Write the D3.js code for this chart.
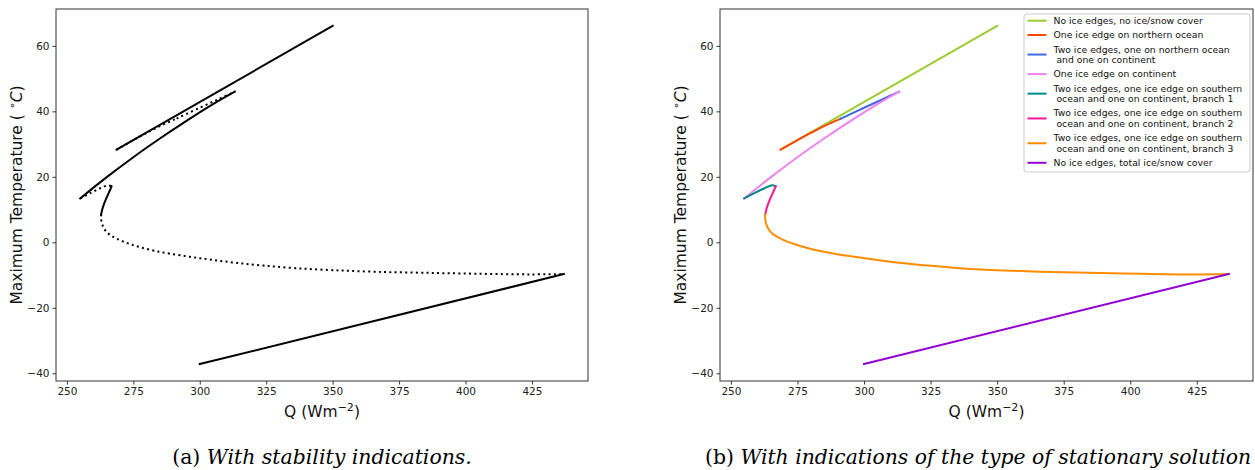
<!DOCTYPE html>
<html>
<head>
<meta charset="utf-8">
<script src="https://cdn.jsdelivr.net/npm/d3@7"></script>
<style>
  body { margin: 0; background: #fff; }
  svg { display: block; }
</style>
</head>
<body>
<svg id="fig" width="1255" height="470"></svg>
<script>
// Stationary-solution branches: solar forcing Q (W m^-2) vs maximum temperature (°C)
const qNoIce = [268.7, 350.0];
const tNoIce = [28.3, 66.1];

const qNorthOcean = [268.7, 275.0, 280.0, 285.0, 291.3];
const tNorthOcean = [28.3, 31.2, 33.4, 35.5, 37.8];

const qNorthOceanContinent = [291.3, 300.0, 307.0, 313.2];
const tNorthOceanContinent = [37.8, 41.1, 43.7, 46.0];

const qContinent = [255.0, 265.0, 275.0, 285.0, 295.0, 305.0, 313.2];
const tContinent = [13.4, 19.9, 26.0, 31.7, 37.1, 42.2, 46.0];

const qSouthBranch1 = [255.0, 259.0, 262.8, 265.5, 266.8];
const tSouthBranch1 = [13.4, 15.1, 16.6, 17.4, 17.1];

const qSouthBranch2 = [266.8, 266.2, 264.8, 263.5, 262.9];
const tSouthBranch2 = [17.1, 15.9, 13.4, 10.6, 8.6];

const qSouthBranch3 = [262.9, 262.9, 263.3, 264.0, 265.0, 266.5, 268.5, 271.0, 274.0, 278.0, 283.0, 289.0,
                       297.0, 305.0, 314.0, 324.0, 336.0, 350.0, 366.0, 384.0, 404.0, 424.0, 437.0];
const tSouthBranch3 = [8.6, 7.0, 5.5, 4.2, 3.1, 2.1, 1.2, 0.3, -0.6, -1.6, -2.6, -3.5,
                       -4.5, -5.4, -6.3, -7.1, -7.9, -8.5, -9.0, -9.3, -9.6, -9.8, -9.7];

const qTotalIce = [300.0, 437.0];
const tTotalIce = [-37.2, -9.7];

const branchQ = [qNoIce, qNorthOcean, qNorthOceanContinent, qContinent,
                 qSouthBranch1, qSouthBranch2, qSouthBranch3, qTotalIce];
const branchT = [tNoIce, tNorthOcean, tNorthOceanContinent, tContinent,
                 tSouthBranch1, tSouthBranch2, tSouthBranch3, tTotalIce];
const branchStable = [true, false, false, true, false, true, false, true];
const branchColors = ["#9acd32", "#ff4500", "#4169e1", "#ee82ee",
                      "#008b8b", "#ff1493", "#ff8c00", "#9400d3"];
const branchLabels = [
  "No ice edges, no ice/snow cover",
  "One ice edge on northern ocean",
  "Two ice edges, one on northern ocean\n and one on continent",
  "One ice edge on continent",
  "Two ice edges, one ice edge on southern\n ocean and one on continent, branch 1",
  "Two ice edges, one ice edge on southern\n ocean and one on continent, branch 2",
  "Two ice edges, one ice edge on southern\n ocean and one on continent, branch 3",
  "No ice edges, total ice/snow cover"
];

const xTicks = [250, 275, 300, 325, 350, 375, 400, 425];
const yTicks = [-40, -20, 0, 20, 40, 60];
const captionTags = ["(a) ", "(b) "];
const captions = ["With stability indications.", "With indications of the type of stationary solution"];

const svg = d3.select("#fig");
const sans = "'DejaVu Sans', sans-serif";
const serif = "'DejaVu Serif', serif";

// axis limits with 5% padding around the data
const allQ = branchQ.flat(), allT = branchT.flat();
function padded(vals) {
  const [lo, hi] = d3.extent(vals);
  const m = 0.05 * (hi - lo);
  return [lo - m, hi + m];
}
const qDomain = padded(allQ), tDomain = padded(allT);

function drawPanel(left, right, top, bottom, colored) {
  const x = d3.scaleLinear().domain(qDomain).range([left, right]);
  const y = d3.scaleLinear().domain(tDomain).range([bottom, top]);
  const g = svg.append("g");

  const line = d3.line()
    .x(d => x(d[0])).y(d => y(d[1]))
    .curve(d3.curveCatmullRom.alpha(0.5));

  branchQ.forEach((qs, i) => {
    const pts = qs.map((q, k) => [q, branchT[i][k]]);
    const p = g.append("path")
      .attr("d", line(pts))
      .attr("fill", "none")
      .attr("stroke-width", 2)
      .attr("stroke", colored ? branchColors[i] : "#000");
    if (!colored && !branchStable[i]) {
      p.attr("stroke-dasharray", "2,3.3");
    } else {
      p.attr("stroke-linecap", "square");
    }
  });

  // frame
  g.append("rect")
    .attr("x", left).attr("y", top)
    .attr("width", right - left).attr("height", bottom - top)
    .attr("fill", "none").attr("stroke", "#333").attr("stroke-width", 1);

  const xAxis = g.append("g").attr("transform", `translate(0,${bottom})`)
    .call(d3.axisBottom(x).tickValues(xTicks).tickSize(3.5).tickPadding(3).tickFormat(d3.format("d")));
  const yAxis = g.append("g").attr("transform", `translate(${left},0)`)
    .call(d3.axisLeft(y).tickValues(yTicks).tickSize(3.5).tickPadding(3)
      .tickFormat(d => d < 0 ? "\u2212" + Math.abs(d) : String(d)));
  [xAxis, yAxis].forEach(a => {
    a.select(".domain").remove();
    a.selectAll("line").attr("stroke", "#333");
    a.selectAll("text").attr("font-family", sans).attr("font-size", 10.5).attr("fill", "#222");
  });

  // x label
  const xl = g.append("text")
    .attr("x", (left + right) / 2).attr("y", 417)
    .attr("text-anchor", "middle")
    .attr("font-family", sans).attr("font-size", 15.5).attr("fill", "#111");
  xl.append("tspan").text("Q (Wm");
  xl.append("tspan").attr("font-size", 11).attr("dy", -6).text("\u22122");
  xl.append("tspan").attr("dy", 6).text(")");

  // y label
  const yl = g.append("text")
    .attr("transform", `translate(${left - 34},${(top + bottom) / 2}) rotate(-90)`)
    .attr("text-anchor", "middle")
    .attr("font-family", sans).attr("font-size", 15.5).attr("fill", "#111");
  yl.append("tspan").text("Maximum Temperature ( ");
  yl.append("tspan").attr("font-size", 11).attr("dy", -6).text("\u2218");
  yl.append("tspan").attr("dy", 6).attr("font-style", "italic").text("C");
  yl.append("tspan").text(")");

  return { x, y, g };
}

drawPanel(56, 588, 9, 381, false);
drawPanel(720, 1253, 9, 381, true);

// legend: size the label font so the first entry spans the legend's text column
const legendTextX = 1053.5, legendFirstWidth = 149.5;
const probe = svg.append("text").attr("font-family", sans).attr("font-size", 10).text(branchLabels[0]);
const legendFont = 10 * legendFirstWidth / probe.node().getComputedTextLength();
probe.remove();

const lg = svg.append("g");
lg.append("rect")
  .attr("x", 1024).attr("y", 14).attr("width", 226).attr("height", 158)
  .attr("rx", 3).attr("fill", "#fff").attr("fill-opacity", 0.8)
  .attr("stroke", "#ccc").attr("stroke-width", 1);
let yCursor = 20.7;
branchLabels.forEach((lab, i) => {
  const lines = lab.split("\n");
  const lineGap = 10.5;
  const mid = yCursor + (lines.length - 1) * lineGap / 2;
  lg.append("line")
    .attr("x1", 1027.5).attr("x2", 1046.5)
    .attr("y1", mid).attr("y2", mid)
    .attr("stroke", branchColors[i]).attr("stroke-width", 2);
  const t = lg.append("text")
    .attr("font-family", sans).attr("font-size", legendFont).attr("fill", "#111")
    .attr("xml:space", "preserve");
  lines.forEach((ln, k) => {
    t.append("tspan").attr("x", legendTextX).attr("y", yCursor + k * lineGap).attr("dy", "0.35em").text(ln);
  });
  yCursor += (lines.length - 1) * lineGap + 14.3;
});

// captions under each panel
function caption(x, anchor, k, size) {
  const c = svg.append("text").attr("x", x).attr("y", 464).attr("text-anchor", anchor)
    .attr("font-family", serif).attr("font-size", size).attr("fill", "#000")
    .attr("xml:space", "preserve");
  c.append("tspan").text(captionTags[k]);
  c.append("tspan").attr("font-style", "italic").text(captions[k]);
  return c;
}
const capA = caption(322, "middle", 0, 20);
const capSize = Math.min(21, 20 * 300 / capA.node().getComputedTextLength());
capA.attr("font-size", capSize);
const capB = caption(705, "start", 1, capSize);
const bw = capB.node().getComputedTextLength();
if (bw > 546) capB.attr("font-size", capSize * 546 / bw);
</script>
</body>
</html>
